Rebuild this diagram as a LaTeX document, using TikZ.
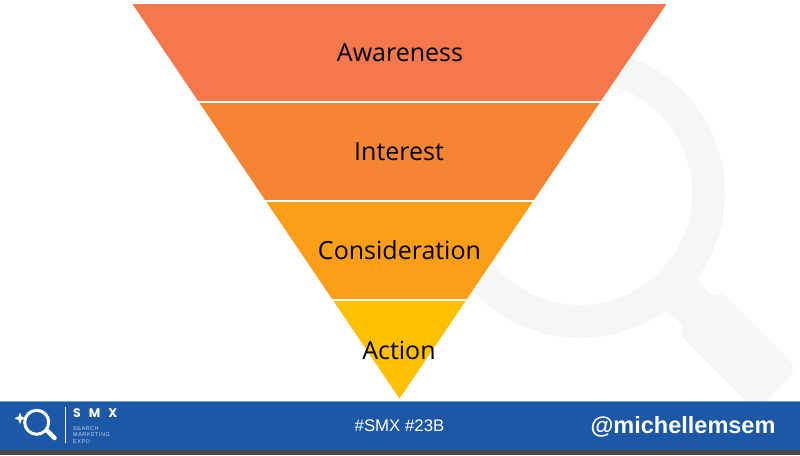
\documentclass[tikz,border=0pt]{standalone}
\usepackage{fontspec}
\setmainfont{Open Sans}
\newfontfamily\arialfont{Liberation Sans}
\newfontfamily\smxfont{Poppins}
\newfontfamily\tinyfont[LetterSpace=9]{Liberation Sans}
\definecolor{bandblue}{HTML}{1C58A6}
\definecolor{glassgray}{HTML}{F6F6F6}
\tikzset{
  band/.style={draw=white,line width=1.8pt},
  stage/.style={font=\fontsize{25}{29}\selectfont,text=black,inner sep=0pt},
  foot/.style={font=\arialfont,text=white,inner sep=0pt},
  tiny/.style={foot,anchor=west,font=\tinyfont\fontsize{5.5}{6}\selectfont,text=white!75!bandblue}
}
\begin{document}
\begin{tikzpicture}[x=1pt,y=-1pt]
  \useasboundingbox (0,0) rectangle (800,455);
  \fill[white] (0,0) rectangle (800,455);
  % glass behind the funnel
  \draw[glassgray,line width=33pt] (580,193) circle (128.5);
  \begin{scope}[shift={(580,193)},rotate=-45]
    \fill[glassgray] (132,-40) .. controls (140,-28) and (142,-21) .. (152,-21) -- (176,-21) -- (176,21) -- (152,21) .. controls (142,21) and (140,28) .. (132,40) -- cycle;
    \fill[glassgray,rounded corners=11pt] (167,-30) rectangle (278,30);
  \end{scope}
  % funnel
  \fill[band,fill={rgb,255:red,245;green,119;blue,76}] (130.5,3) -- (668.5,3) -- (601.5,102) -- (197.5,102) -- cycle;
  \fill[band,fill={rgb,255:red,246;green,133;blue,51}] (197.5,102) -- (601.5,102) -- (534.5,201) -- (264.5,201) -- cycle;
  \fill[band,fill={rgb,255:red,252;green,158;blue,24}] (264.5,201) -- (534.5,201) -- (467.5,300) -- (331.5,300) -- cycle;
  \fill[band,fill={rgb,255:red,255;green,192;blue,0}] (331.5,300) -- (467.5,300) -- (399.5,400.5) -- cycle;
  \node[stage] (awareness) at (400,52.5) {Awareness};
  \node[stage] (interest) at (399,151.5) {Interest};
  \node[stage] (consideration) at (399.5,250.5) {Consideration};
  \node[stage] (action) at (399,350) {Action};
  % footer
  \fill[black!72] (0,449) rectangle (800,455);
  \fill[bandblue] (0,401.5) rectangle (800,449.5);
  \draw[bandblue!60!white,line width=0.8pt] (0,401.6) -- (800,401.6);
  \draw[white,line width=3pt] (36.7,422.3) circle (12);
  \draw[white,line width=4.5pt,line cap=round] (47.5,431) -- (54.5,438);
  \fill[white] (20,412.5) -- (21.5,416.5) -- (25.5,418.3) -- (21.5,420) -- (20,424) -- (18.5,420) -- (14.5,418.3) -- (18.5,416.5) -- cycle;
  \draw[white,line width=0.8pt] (65,407) -- (65,443);
  \node[foot,anchor=west,font=\smxfont\bfseries\fontsize{12.5}{14}\selectfont] (smx) at (73,413) {S\hspace{8pt}M\hspace{8pt}X};
  \node[tiny] (search) at (73,428.5) {SEARCH};
  \node[tiny] (marketing) at (73,435) {MARKETING};
  \node[tiny] (expo) at (73,441.5) {EXPO};
  \node[foot,font=\arialfont\fontsize{16.8}{20}\selectfont] (tags) at (399.5,425.5) {\#SMX \#23B};
  \node[foot,font=\arialfont\bfseries\fontsize{23.5}{28}\selectfont] (handle) at (683,426.5) {@michellemsem};
\end{tikzpicture}
\end{document}
